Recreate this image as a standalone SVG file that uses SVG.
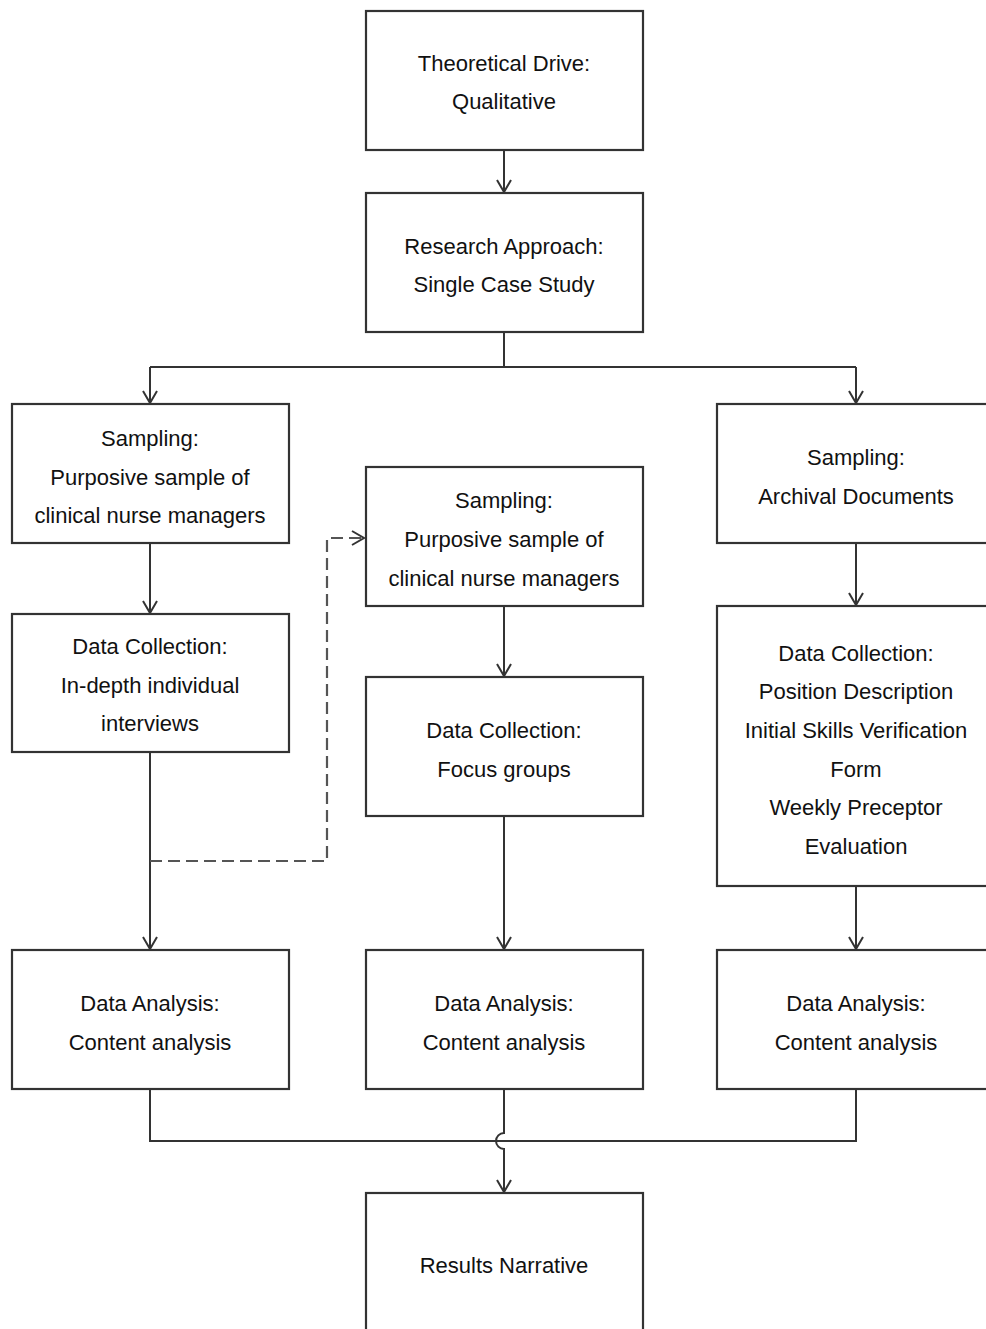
<svg xmlns="http://www.w3.org/2000/svg" width="986" height="1329" viewBox="0 0 986 1329">
<style>
.box{fill:#fff;stroke:#333;stroke-width:2.2}
.t{font-family:"Liberation Sans",Arial,sans-serif;font-size:22px;fill:#111;text-anchor:middle}
.c{fill:none;stroke:#333;stroke-width:2}
.d{fill:none;stroke:#555;stroke-width:2.2;stroke-dasharray:12,6}
.ah{fill:none;stroke:#333;stroke-width:2}
</style>
<rect width="986" height="1329" fill="#fff"/>
<g id="connectors">
<path class="c" d="M504,150 V192"/>
<path class="c" d="M504,332 V367 M150,367 H856 M150,367 V403 M856,367 V403"/>
<path class="c" d="M150,543 V613"/>
<path class="c" d="M504,606 V676"/>
<path class="c" d="M856,543 V605"/>
<path class="c" d="M150,752 V949"/>
<path class="c" d="M504,816 V949"/>
<path class="c" d="M856,886 V949"/>
<path class="d" d="M150,861 H327 V538 H362"/>
<path class="c" d="M150,1089 V1141 H856 V1089"/>
<path class="c" d="M504,1089 V1133 A8,8 0 0 0 504,1149 V1192"/>
<g id="arrowheads">
<path class="ah" d="M497,180 L504,192 L511,180"/>
<path class="ah" d="M143,391 L150,403 L157,391"/>
<path class="ah" d="M849,391 L856,403 L863,391"/>
<path class="ah" d="M143,601 L150,613 L157,601"/>
<path class="ah" d="M497,664 L504,676 L511,664"/>
<path class="ah" d="M849,593 L856,605 L863,593"/>
<path class="ah" d="M143,937 L150,949 L157,937"/>
<path class="ah" d="M497,937 L504,949 L511,937"/>
<path class="ah" d="M849,937 L856,949 L863,937"/>
<path class="ah" d="M497,1180 L504,1192 L511,1180"/>
<path class="ah" d="M352,531 L364,538 L352,545"/>
</g>
</g>
<g id="theoretical-drive">
<rect class="box" x="366" y="11" width="277" height="139"/>
<text class="t" x="504" y="71">Theoretical Drive:</text>
<text class="t" x="504" y="109">Qualitative</text>
</g>
<g id="research-approach">
<rect class="box" x="366" y="193" width="277" height="139"/>
<text class="t" x="504" y="254">Research Approach:</text>
<text class="t" x="504" y="292">Single Case Study</text>
</g>
<g id="sampling-left">
<rect class="box" x="12" y="404" width="277" height="139"/>
<text class="t" x="150" y="446">Sampling:</text>
<text class="t" x="150" y="485">Purposive sample of</text>
<text class="t" x="150" y="523">clinical nurse managers</text>
</g>
<g id="sampling-middle">
<rect class="box" x="366" y="467" width="277" height="139"/>
<text class="t" x="504" y="508">Sampling:</text>
<text class="t" x="504" y="547">Purposive sample of</text>
<text class="t" x="504" y="586">clinical nurse managers</text>
</g>
<g id="sampling-right">
<rect class="box" x="717" y="404" width="278" height="139"/>
<text class="t" x="856" y="465">Sampling:</text>
<text class="t" x="856" y="504">Archival Documents</text>
</g>
<g id="collection-left">
<rect class="box" x="12" y="614" width="277" height="138"/>
<text class="t" x="150" y="654">Data Collection:</text>
<text class="t" x="150" y="693">In-depth individual</text>
<text class="t" x="150" y="731">interviews</text>
</g>
<g id="collection-middle">
<rect class="box" x="366" y="677" width="277" height="139"/>
<text class="t" x="504" y="738">Data Collection:</text>
<text class="t" x="504" y="777">Focus groups</text>
</g>
<g id="collection-right">
<rect class="box" x="717" y="606" width="278" height="280"/>
<text class="t" x="856" y="661">Data Collection:</text>
<text class="t" x="856" y="699">Position Description</text>
<text class="t" x="856" y="738">Initial Skills Verification</text>
<text class="t" x="856" y="777">Form</text>
<text class="t" x="856" y="815">Weekly Preceptor</text>
<text class="t" x="856" y="854">Evaluation</text>
</g>
<g id="analysis-left">
<rect class="box" x="12" y="950" width="277" height="139"/>
<text class="t" x="150" y="1011">Data Analysis:</text>
<text class="t" x="150" y="1050">Content analysis</text>
</g>
<g id="analysis-middle">
<rect class="box" x="366" y="950" width="277" height="139"/>
<text class="t" x="504" y="1011">Data Analysis:</text>
<text class="t" x="504" y="1050">Content analysis</text>
</g>
<g id="analysis-right">
<rect class="box" x="717" y="950" width="278" height="139"/>
<text class="t" x="856" y="1011">Data Analysis:</text>
<text class="t" x="856" y="1050">Content analysis</text>
</g>
<g id="results-narrative">
<rect class="box" x="366" y="1193" width="277" height="150"/>
<text class="t" x="504" y="1273">Results Narrative</text>
</g>
</svg>
